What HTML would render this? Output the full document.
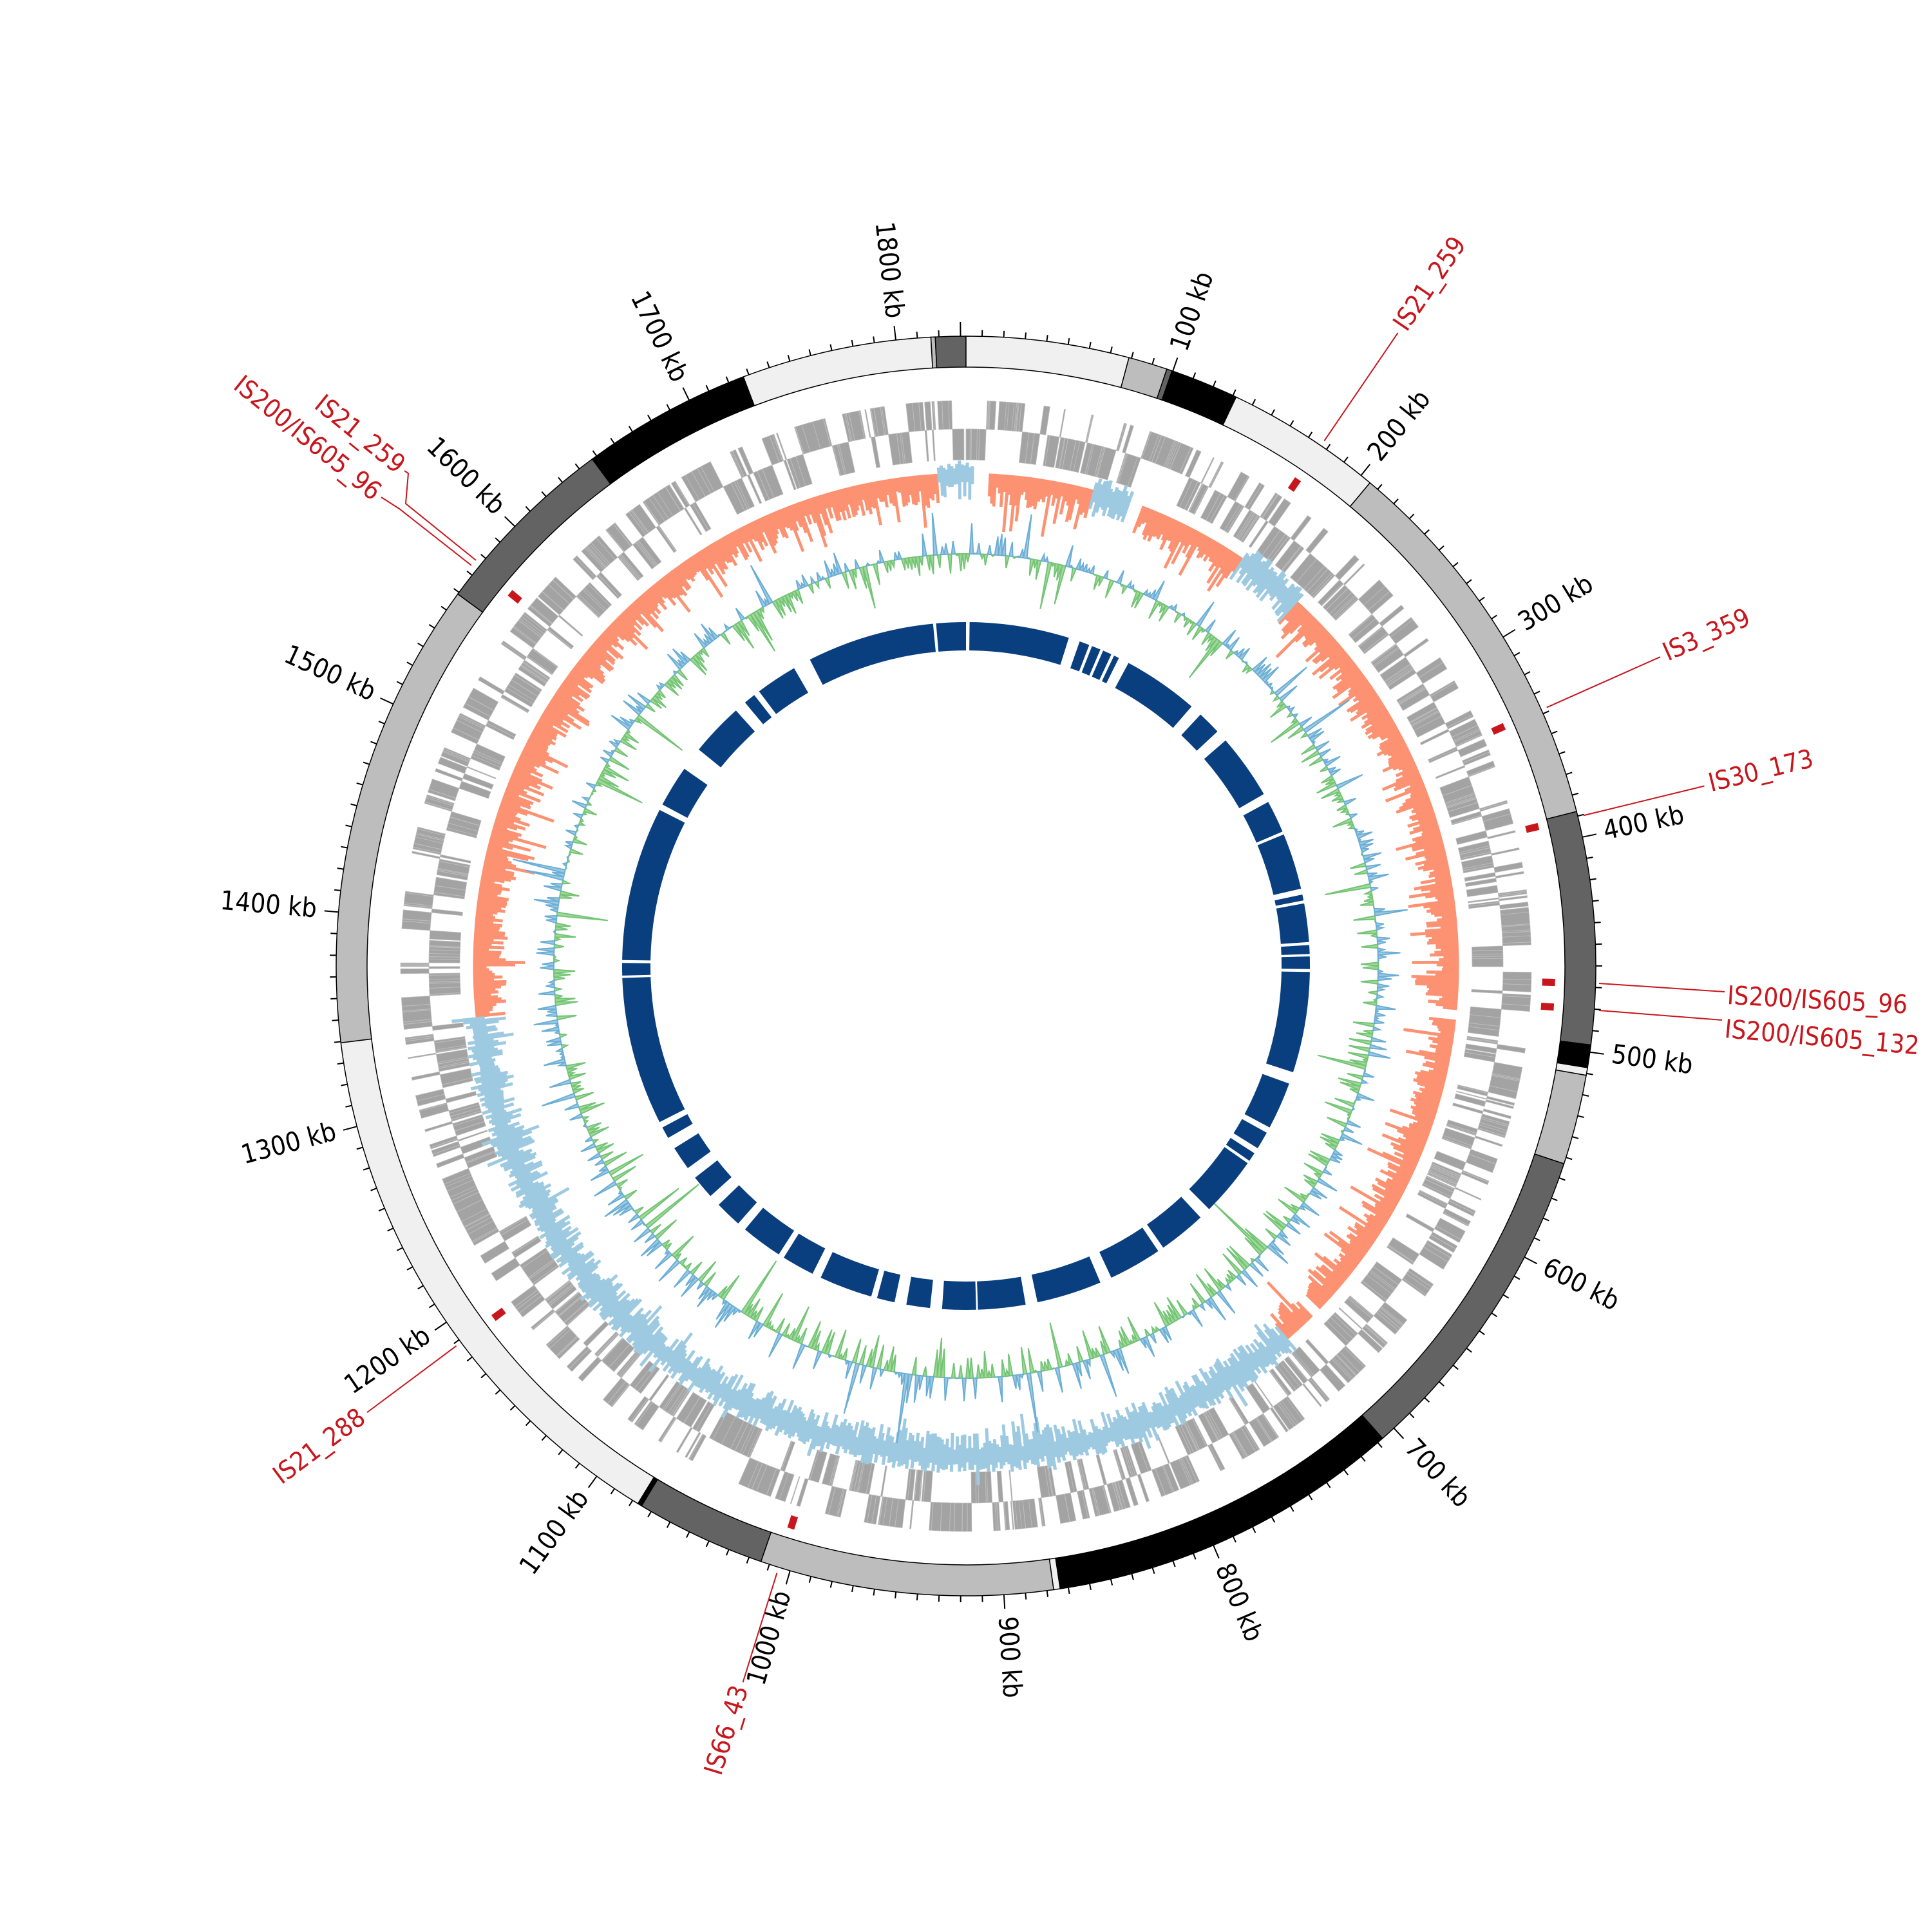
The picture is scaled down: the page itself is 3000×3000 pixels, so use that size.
<!DOCTYPE html>
<html><head><meta charset="utf-8"><style>
html,body{margin:0;padding:0;background:#fff;}
svg{display:block;}
.t{font-family:"Liberation Sans Narrow","DejaVu Sans Condensed","Liberation Sans",sans-serif;font-size:41px;fill:#000;dominant-baseline:middle;}
.r{font-family:"Liberation Sans Narrow","DejaVu Sans Condensed","Liberation Sans",sans-serif;font-size:40px;fill:#c8161d;dominant-baseline:middle;}
</style></head><body>
<svg id="s" width="3000" height="3000" viewBox="0 0 3000 3000" xmlns="http://www.w3.org/2000/svg">
<rect width="3000" height="3000" fill="#fff"/>
<g id="g"></g>
<g>
<text class="t" transform="rotate(-70.83 1500 1500)" x="2512" y="1500">100 kb</text>
<text class="t" transform="rotate(-51.16 1500 1500)" x="2512" y="1500">200 kb</text>
<text class="t" transform="rotate(-31.5 1500 1500)" x="2512" y="1500">300 kb</text>
<text class="t" transform="rotate(-11.8 1500 1500)" x="2512" y="1500">400 kb</text>
<text class="t" transform="rotate(7.9 1500 1500)" x="2512" y="1500">500 kb</text>
<text class="t" transform="rotate(27.5 1500 1500)" x="2512" y="1500">600 kb</text>
<text class="t" transform="rotate(47.2 1500 1500)" x="2512" y="1500">700 kb</text>
<text class="t" transform="rotate(66.9 1500 1500)" x="2512" y="1500">800 kb</text>
<text class="t" transform="rotate(86.5 1500 1500)" x="2512" y="1500">900 kb</text>
<text class="t" text-anchor="end" transform="rotate(286.2 1500 1500)" x="488" y="1500">1000 kb</text>
<text class="t" text-anchor="end" transform="rotate(305.9 1500 1500)" x="488" y="1500">1100 kb</text>
<text class="t" text-anchor="end" transform="rotate(325.6 1500 1500)" x="488" y="1500">1200 kb</text>
<text class="t" text-anchor="end" transform="rotate(345.2 1500 1500)" x="488" y="1500">1300 kb</text>
<text class="t" text-anchor="end" transform="rotate(364.9 1500 1500)" x="488" y="1500">1400 kb</text>
<text class="t" text-anchor="end" transform="rotate(384.6 1500 1500)" x="488" y="1500">1500 kb</text>
<text class="t" text-anchor="end" transform="rotate(404.3 1500 1500)" x="488" y="1500">1600 kb</text>
<text class="t" text-anchor="end" transform="rotate(423.9 1500 1500)" x="488" y="1500">1700 kb</text>
<text class="t" text-anchor="end" transform="rotate(443.6 1500 1500)" x="488" y="1500">1800 kb</text>
</g>
<g stroke="#c8161d" stroke-width="2" fill="none">
<line transform="rotate(-55.7 1500 1500)" x1="2487" y1="1500" x2="2690" y2="1500"/>
<line transform="rotate(-24 1500 1500)" x1="2487" y1="1500" x2="2680" y2="1500"/>
<line transform="rotate(-13.7 1500 1500)" x1="2487" y1="1500" x2="2680" y2="1500"/>
<polyline points="2483,1527 2678,1540"/>
<polyline points="2483,1569 2674,1584"/>
<line transform="rotate(143.3 1500 1500)" x1="2487" y1="1500" x2="2660" y2="1500"/>
<line transform="rotate(107.3 1500 1500)" x1="2487" y1="1500" x2="2665" y2="1500"/>
<polyline points="739,870 630,782 634,735 628,731"/>
<polyline points="732,878 620,790 592,772"/>
</g>
<g>
<text class="r" transform="rotate(-55.7 1500 1500)" x="2698" y="1500">IS21_259</text>
<text class="r" transform="rotate(-24 1500 1500)" x="2688" y="1500">IS3_359</text>
<text class="r" transform="rotate(-13.7 1500 1500)" x="2688" y="1500">IS30_173</text>
<text class="r" transform="rotate(3 2682 1548)" x="2682" y="1548">IS200/IS605_96</text>
<text class="r" transform="rotate(5 2678 1600)" x="2678" y="1600">IS200/IS605_132</text>
<text class="r" text-anchor="end" transform="rotate(323.3 1500 1500)" x="332" y="1500">IS21_288</text>
<text class="r" text-anchor="end" transform="rotate(287.3 1500 1500)" x="328" y="1500">IS66_43</text>
<text class="r" text-anchor="end" transform="rotate(39 622 728)" x="622" y="728">IS21_259</text>
<text class="r" text-anchor="end" transform="rotate(39 585 770)" x="585" y="770">IS200/IS605_96</text>
</g>
</svg>
<script>
(function(){
var NS="http://www.w3.org/2000/svg",g=document.getElementById("g");
var C=1500,D=Math.PI/180;
function P(a,r){return [C+r*Math.sin(a*D),C-r*Math.cos(a*D)];}
function f(n){return n.toFixed(1);}
function sector(a1,a2,r1,r2){var p1=P(a1,r2),p2=P(a2,r2),p3=P(a2,r1),p4=P(a1,r1),l=(a2-a1)>180?1:0;
return "M"+f(p1[0])+","+f(p1[1])+"A"+r2+","+r2+" 0 "+l+" 1 "+f(p2[0])+","+f(p2[1])+"L"+f(p3[0])+","+f(p3[1])+"A"+r1+","+r1+" 0 "+l+" 0 "+f(p4[0])+","+f(p4[1])+"Z";}
function el(t,at){var e=document.createElementNS(NS,t);for(var k in at)e.setAttribute(k,at[k]);g.appendChild(e);return e;}
var s=12345;function R(){s|=0;s=s+0x6D2B79F5|0;var t=Math.imul(s^s>>>15,1|s);t=t+Math.imul(t^t>>>7,61|t)^t;return((t^t>>>14)>>>0)/4294967296;}
var segs=[[-3.2,-2.8,'#bdbdbd'],[-2.8,0,'#636363'],[0,15,'#f0f0f0'],[15,18.6,'#bdbdbd'],[18.6,19.1,'#636363'],[19.1,25.4,'#000'],[25.4,39.9,'#f0f0f0'],[39.9,75.8,'#bdbdbd'],[75.8,97.2,'#636363'],[97.2,99.3,'#000'],[99.3,100,'#f0f0f0'],[100,108.3,'#bdbdbd'],[108.3,138.6,'#636363'],[138.6,171.4,'#000'],[171.4,172,'#f0f0f0'],[172,199,'#bdbdbd'],[199,211,'#636363'],[211,211.4,'#000'],[211.4,263,'#f0f0f0'],[263,306.2,'#bdbdbd'],[306.2,323.6,'#636363'],[323.6,339.3,'#000'],[339.3,356.8,'#f0f0f0']];
segs.forEach(function(q){el("path",{d:sector(q[0],q[1],930,978),fill:q[2],stroke:"#000","stroke-width":1.5});});
var d="";for(var k=0;k<=1830;k+=10){var a=k/1830*360-0.5;if(k>0&&a>359.4)break;var L=(k%100==0)?22:10;var p=P(a,978),q=P(a,978+L);d+="M"+f(p[0])+","+f(p[1])+"L"+f(q[0])+","+f(q[1]);}
el("path",{d:d,stroke:"#000","stroke-width":2,fill:"none"});
var a=0,gd="";var strand=0;
while(a<359.5){var len=0.08+R()*R()*1.2;if(R()<0.3)strand=1-strand;var gap=R()<0.06?R()*0.6:R()*0.03;
var r1=strand?834:786,r2=strand?878:834;
gd+=sector(a,Math.min(a+len,359.9),r1,r2);a+=len+gap;}
el("path",{d:gd,fill:"#a3a3a3",stroke:"#bdbdbd","stroke-width":0.8});
[34.3,66,76.3,91.6,94,233.3,197.3,309.3].forEach(function(x){el("path",{d:sector(x-0.35,x+0.35,895,915),fill:"#c8161d"});});
function inZ(x,z){for(var i=0;i<z.length;i++)if(x>=z[i][0]&&x<z[i][1])return true;return false;}
var blueZ=[[139,264],[356.5,360],[0,0.8],[15,19.5],[34,42]],gapZ=[[0.8,2.5],[19.5,21],[95,96],[134,135]];
var base=765,ob="",bb="",st=0.3;
for(var x=0;x<360;x+=st){
 if(inZ(x,gapZ))continue;
 if(inZ(x,blueZ)){var ro=base+5+R()*18+(R()<0.08?R()*25:0),ri=base-(12+R()*30+(R()<0.1?R()*25:0));
  var p1=P(x,ri),p2=P(x,ro),p3=P(x+st,ro),p4=P(x+st,ri);
  bb+="M"+f(p1[0])+","+f(p1[1])+"L"+f(p2[0])+","+f(p2[1])+"L"+f(p3[0])+","+f(p3[1])+"L"+f(p4[0])+","+f(p4[1])+"Z";}
 else{var ri2=base-(20+R()*30+(R()<0.2?R()*40:0));
  var p1=P(x,ri2),p2=P(x,base),p3=P(x+st,base),p4=P(x+st,ri2);
  ob+="M"+f(p1[0])+","+f(p1[1])+"L"+f(p2[0])+","+f(p2[1])+"L"+f(p3[0])+","+f(p3[1])+"L"+f(p4[0])+","+f(p4[1])+"Z";}
}
el("path",{d:ob,fill:"#fc9272",stroke:"#fc9272","stroke-width":1});
el("path",{d:bb,fill:"#9ecae1",stroke:"#9ecae1","stroke-width":1});
var gb=640,gp="",bp="";st=0.5;
for(var x=0;x<360;x+=st){var v=(R()-0.5)*70;if(R()<0.12)v*=2.5;
 var bottom=(x>120&&x<250)?1.3:1;v*=bottom;
 var r=gb+v,p1=P(x,gb),p2=P(x+st/2,r),p3=P(x+st,gb);
 var seg="M"+f(p1[0])+","+f(p1[1])+"L"+f(p2[0])+","+f(p2[1])+"L"+f(p3[0])+","+f(p3[1])+"Z";
 if(v>0)bp+=seg;else gp+=seg;}
el("path",{d:gp,fill:"#a1d99b",stroke:"#74c476","stroke-width":2});
el("path",{d:bp,fill:"#9ecae1",stroke:"#6baed6","stroke-width":2});
var gaps=[[0,0.6],[17.4,19.3],[21,21.5],[23,23.5],[25,25.5],[26.4,28.2],[41,43],[47,49],[60,61.5],[67,67.5],[77,78],[79,79.5],[86,86.5],[88,88.4],[90.5,91],[108,110],[118,119],[122,123],[124.5,125],[135,137],[145,146],[155,157],[168,170],[178,178.3],[184,186],[190,192],[195,196],[205,206.5],[212,213],[220,221.5],[226,228],[232,234],[238,240],[242,243],[268,268.4],[270.5,271],[297,298],[305,309],[318,320],[322,323],[330,333],[354.5,355]];
var nd="",prev=0.6;for(var i=1;i<gaps.length;i++){nd+=sector(prev,gaps[i][0],490,534);prev=gaps[i][1];}
nd+=sector(prev,360,490,534);
el("path",{d:nd,fill:"#0a3f7f"});
})();
</script>
</body></html>
